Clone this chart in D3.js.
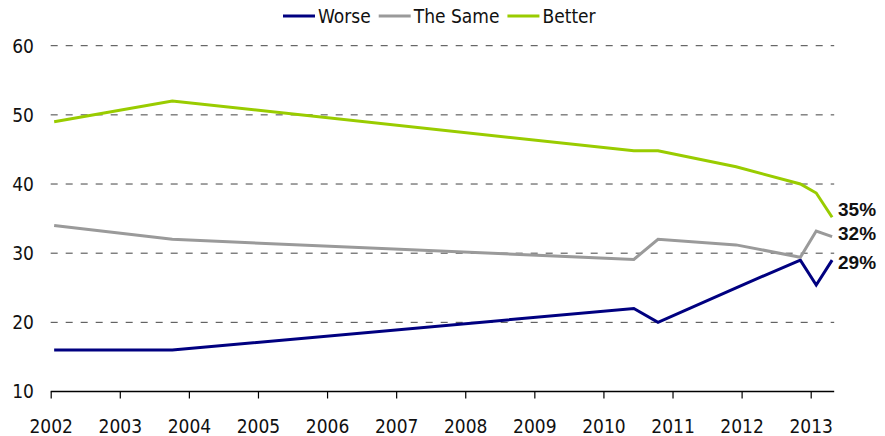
<!DOCTYPE html>
<html>
<head>
<meta charset="utf-8">
<script src="https://cdn.jsdelivr.net/npm/d3@7"></script>
<style>
  body { margin: 0; background: #fff; }
  svg text { font-family: "DejaVu Sans Condensed", "DejaVu Sans", sans-serif; fill: #111; }
  svg text.endlabel { font-family: "Liberation Sans", Arial, sans-serif; font-weight: bold; }
</style>
</head>
<body>
<svg id="graph"></svg>
<script>
// survey dates (decimal years) and values
var dates  = [2002.05, 2003.76, 2010.44, 2010.79, 2011.92, 2012.85, 2013.08, 2013.31];
var worse  = [16, 16, 22, 20, 25, 29, 25.4, 29];
var same   = [34, 32, 29.1, 32, 31.2, 29.4, 33.2, 32.4];
var better = [49, 52, 44.8, 44.8, 42.5, 40, 38.7, 35.2];

var seriesNames = ["Worse", "The Same", "Better"];
var endLabels   = ["29%", "32%", "35%"];
var yTicks = [10, 20, 30, 40, 50, 60];
var xTicks = [2002, 2003, 2004, 2005, 2006, 2007, 2008, 2009, 2010, 2011, 2012, 2013];

function setGraph(){
    var w = 885, h = 436;
    var svg = d3.select("#graph").attr("width", w).attr("height", h);

    var colors = ["#000080", "#9a9a9a", "#99cc00"];
    var values = [worse, same, better];

    var scaleX = d3.scaleLinear().domain([2002, 2013]).range([50.7, 810.7]);
    var scaleY = d3.scaleLinear().domain([10, 60]).range([391.5, 45.7]);
    var xEnd = scaleX(2013.34);

    // grid lines (dashed)
    svg.append("g").selectAll("line")
        .data(yTicks.filter(function(d){ return d > 10; }))
        .enter().append("line")
        .attr("x1", scaleX(2002)).attr("x2", xEnd)
        .attr("y1", function(d){ return scaleY(d); })
        .attr("y2", function(d){ return scaleY(d); })
        .attr("stroke", "#444")
        .attr("stroke-width", 1)
        .attr("stroke-dasharray", "7,8");

    // y labels
    svg.append("g").selectAll("text")
        .data(yTicks)
        .enter().append("text")
        .attr("x", 34)
        .attr("y", function(d){ return scaleY(d); })
        .attr("dy", "0.36em")
        .attr("text-anchor", "end")
        .attr("font-size", 19)
        .text(function(d){ return d; });

    // x axis
    var axisX = d3.axisBottom(scaleX).tickValues(xTicks).tickFormat(d3.format("d"))
        .tickSize(7).tickSizeOuter(0).tickPadding(21);
    var gx = svg.append("g")
        .attr("transform", "translate(0," + scaleY(10) + ")")
        .call(axisX);
    gx.select(".domain").remove();
    gx.append("line")
        .attr("x1", scaleX(2002)).attr("x2", xEnd)
        .attr("stroke", "#000").attr("stroke-width", 1.5);
    gx.selectAll(".tick line").attr("stroke", "#000").attr("stroke-width", 1.2);
    gx.selectAll(".tick text").attr("font-size", 19);

    // lines
    var line = d3.line()
        .x(function(d, i){ return scaleX(dates[i]); })
        .y(function(d){ return scaleY(d); });

    values.forEach(function(v, k){
        svg.append("path")
            .attr("d", line(v))
            .attr("fill", "none")
            .attr("stroke", colors[k])
            .attr("stroke-width", 3)
            .attr("stroke-linejoin", "miter");
    });

    // end labels
    var nudge = [2, -3.5, -7.5];
    values.forEach(function(v, k){
        svg.append("text")
            .attr("class", "endlabel")
            .attr("x", 838)
            .attr("y", scaleY(v[v.length - 1]) + nudge[k])
            .attr("dy", "0.35em")
            .attr("font-size", 19)
            .text(endLabels[k]);
    });

    // legend
    var lg = svg.append("g");
    var x = 283;
    seriesNames.forEach(function(name, k){
        lg.append("line")
            .attr("x1", x).attr("x2", x + 32)
            .attr("y1", 16).attr("y2", 16)
            .attr("stroke", colors[k]).attr("stroke-width", 3);
        var t = lg.append("text")
            .attr("x", x + 35).attr("y", 16)
            .attr("dy", "0.36em")
            .attr("font-size", 19)
            .text(name);
        x += 35 + t.node().getComputedTextLength() + 8;
    });
}

setGraph();
</script>
</body>
</html>
